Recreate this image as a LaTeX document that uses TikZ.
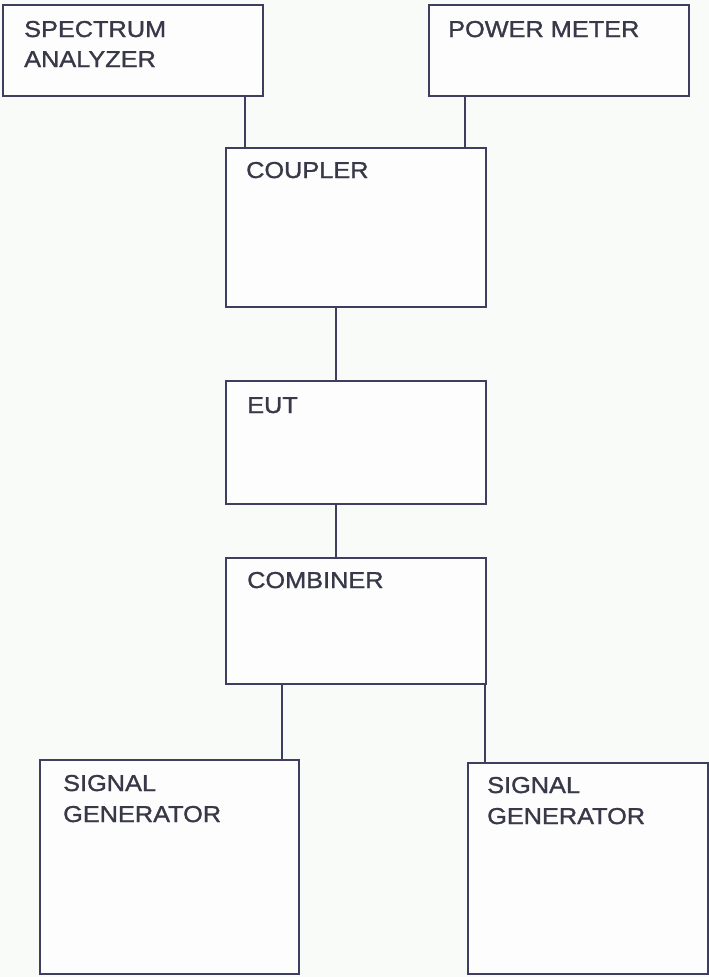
\documentclass[tikz,border=0pt]{standalone}
\usepackage{fontspec}
\newfontfamily\labfont[FakeStretch=1.1,FakeBold=1.2]{Liberation Sans}
\definecolor{bg}{RGB}{248,251,248}
\definecolor{ln}{RGB}{62,62,96}
\definecolor{tx}{RGB}{56,56,72}
\begin{document}
\begin{tikzpicture}[x=1pt,y=-1pt,
  box/.style={draw=ln, line width=1.8pt, rectangle, inner sep=0pt, anchor=north west, fill=white!60!bg},
  lbl/.style={text=tx, inner sep=0pt, anchor=base west, font=\labfont\fontsize{23}{28}\selectfont},
  wire/.style={draw=ln, line width=1.8pt}]
\fill[bg] (0,0) rectangle (709,977);
\useasboundingbox (0,0) rectangle (709,977);
% boxes
\node[box, minimum width=260pt, minimum height=91pt] (sa) at (2,4) {};
\node[box, minimum width=260pt, minimum height=91pt] (pm) at (428,4) {};
\node[box, minimum width=260pt, minimum height=159pt] (cp) at (225,147) {};
\node[box, minimum width=260pt, minimum height=123pt] (eut) at (225,380) {};
\node[box, minimum width=260pt, minimum height=126pt] (cb) at (225,557) {};
\node[box, minimum width=259pt, minimum height=214pt] (sg1) at (39,759) {};
\node[box, minimum width=240pt, minimum height=211pt] (sg2) at (467,762) {};
% labels
\node[lbl] (t1) at (24,37) {SPECTRUM};
\node[lbl] (t2) at (24,67) {ANALYZER};
\node[lbl] (t3) at (448,37) {POWER METER};
\node[lbl] (t4) at (246,178) {COUPLER};
\node[lbl] (t5) at (247,413) {EUT};
\node[lbl] (t6) at (247,588) {COMBINER};
\node[lbl] (t7) at (63,791) {SIGNAL};
\node[lbl] (t8) at (63,822) {GENERATOR};
\node[lbl] (t9) at (487,793) {SIGNAL};
\node[lbl] (t10) at (487,824) {GENERATOR};
% connector columns
\coordinate (xa) at (245,0);
\coordinate (xb) at (465,0);
\coordinate (xc) at (336,0);
\coordinate (xd) at (282,0);
\coordinate (xe) at (485,0);
\draw[wire] (xa |- sa.south) -- (xa |- cp.north);
\draw[wire] (xb |- pm.south) -- (xb |- cp.north);
\draw[wire] (xc |- cp.south) -- (xc |- eut.north);
\draw[wire] (xc |- eut.south) -- (xc |- cb.north);
\draw[wire] (xd |- cb.south) -- (xd |- sg1.north);
\draw[wire] (xe |- cb.south) -- (xe |- sg2.north);
\end{tikzpicture}
\end{document}
